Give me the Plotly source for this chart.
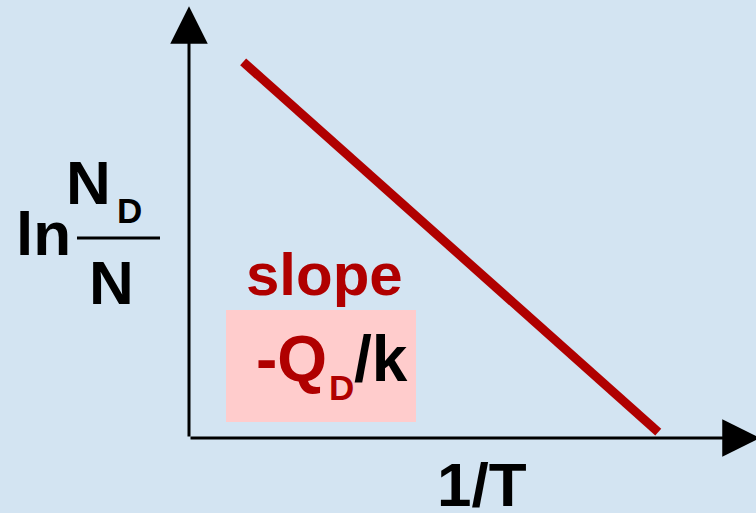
import plotly.graph_objects as go

# schematic Arrhenius plot: ln(N_D/N) vs 1/T, straight line of slope -Q_D/k
inv_T = [0.096, 0.832]
ln_ratio = [0.885, 0.014]

W, H = 756, 513
X0, Y0 = 189, 438      # pixel position of the origin
SX, SY = 564, 425      # pixels per data unit

RED = "#b00000"
FONT = "Liberation Sans"


def px(x):
    return x / W


def py(y):
    return 1 - y / H


fig = go.Figure()

fig.add_trace(go.Scatter(x=inv_T, y=ln_ratio, mode="lines",
                         line=dict(color=RED, width=9), hoverinfo="skip"))

# axes drawn as arrows from the origin
fig.add_annotation(x=0, y=1.016, ax=0, ay=0, xref="x", yref="y", axref="x", ayref="y",
                   text="", showarrow=True, arrowhead=2, arrowsize=2.5,
                   arrowwidth=3, arrowcolor="black")
fig.add_annotation(x=1.012, y=0, ax=0, ay=0, xref="x", yref="y", axref="x", ayref="y",
                   text="", showarrow=True, arrowhead=2, arrowsize=2.5,
                   arrowwidth=3, arrowcolor="black")

# pink box behind the slope value
fig.add_shape(type="rect", xref="paper", yref="paper",
              x0=px(226), x1=px(416), y0=py(422), y1=py(310),
              fillcolor="#ffcccc", line_width=0, layer="below")
# fraction bar
fig.add_shape(type="line", xref="paper", yref="paper",
              x0=px(77), x1=px(160), y0=py(238), y1=py(238),
              line=dict(color="black", width=3))


def label(text, x, y, size, color="black"):
    fig.add_annotation(x=px(x), y=py(y), xref="paper", yref="paper", text=text,
                       showarrow=False, xanchor="center", yanchor="middle", borderpad=0,
                       font=dict(family=FONT, size=size, color=color, weight="bold"))


label("ln", 43, 233, 62)
label("N", 88, 183, 62)
label("D", 129, 211, 35)
label("N", 111, 282, 62)
label("slope", 324, 274, 60, RED)
label("-Q", 291, 359, 64, RED)
label("D", 341, 387, 35, RED)
label("/k", 381, 359, 64)
label("1/T", 482, 484, 62)

fig.update_layout(
    width=W, height=H,
    margin=dict(l=0, r=0, t=0, b=0),
    paper_bgcolor="#d3e4f2", plot_bgcolor="#d3e4f2",
    showlegend=False,
    xaxis=dict(range=[-X0 / SX, (W - X0) / SX], visible=False),
    yaxis=dict(range=[-(H - Y0) / SY, Y0 / SY], visible=False),
)

fig.write_html("out.html", config={"displayModeBar": False},
               post_script="document.body.style.margin='0px';")
